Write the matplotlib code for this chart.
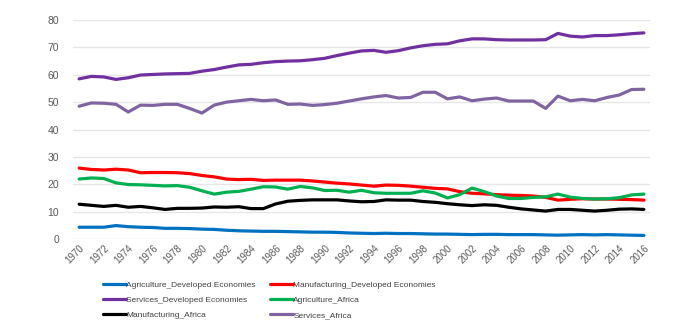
import numpy as np
import matplotlib
matplotlib.use('Agg')
import matplotlib.pyplot as plt

years = list(range(1970, 2017))

agri_dev = [4.3, 4.3, 4.3, 4.9, 4.5, 4.3, 4.2, 3.9, 3.9, 3.8,
            3.6, 3.5, 3.2, 3.0, 2.9, 2.8, 2.8, 2.7, 2.6, 2.5,
            2.5, 2.4, 2.2, 2.1, 2.0, 2.1, 2.0, 2.0, 1.9, 1.8,
            1.8, 1.7, 1.6, 1.7, 1.7, 1.6, 1.6, 1.6, 1.5, 1.4,
            1.5, 1.6, 1.5, 1.6, 1.5, 1.4, 1.3]

manu_dev = [25.9, 25.4, 25.2, 25.5, 25.2, 24.2, 24.3, 24.3, 24.2, 23.9,
            23.2, 22.7, 21.9, 21.7, 21.8, 21.4, 21.5, 21.5, 21.5, 21.2,
            20.8, 20.4, 20.1, 19.7, 19.3, 19.7, 19.6, 19.3, 18.9, 18.5,
            18.3, 17.3, 16.7, 16.5, 16.2, 16.0, 15.9, 15.7, 15.2, 14.2,
            14.5, 14.7, 14.6, 14.6, 14.5, 14.4, 14.2]

serv_dev = [58.5, 59.4, 59.2, 58.3, 58.9, 59.9, 60.1, 60.3, 60.4, 60.5,
            61.3, 61.9, 62.8, 63.6, 63.8, 64.4, 64.8, 65.0, 65.1, 65.5,
            66.0, 67.0, 67.9, 68.7, 68.9, 68.2, 68.8, 69.8, 70.6, 71.1,
            71.3, 72.4, 73.1, 73.1, 72.8, 72.7, 72.7, 72.7, 72.8, 75.1,
            74.1, 73.8, 74.3, 74.3, 74.6, 75.0, 75.3]

agri_afr = [21.9, 22.3, 22.1, 20.5, 19.9, 19.8, 19.6, 19.4, 19.5, 18.9,
            17.6, 16.4, 17.1, 17.4, 18.2, 19.1, 19.0, 18.2, 19.2, 18.7,
            17.7, 17.8, 17.1, 17.8, 16.9, 16.7, 16.7, 16.7, 17.6, 16.8,
            15.0, 16.2, 18.6, 17.3, 15.7, 14.8, 14.8, 15.2, 15.4, 16.4,
            15.3, 14.8, 14.6, 14.7, 15.1, 16.1, 16.4]

manu_afr = [12.7, 12.3, 11.9, 12.3, 11.6, 11.9, 11.4, 10.8, 11.2, 11.2,
            11.3, 11.7, 11.6, 11.8, 11.1, 11.1, 12.8, 13.8, 14.1, 14.3,
            14.3, 14.3, 13.9, 13.6, 13.7, 14.3, 14.2, 14.2, 13.7, 13.4,
            12.9, 12.5, 12.2, 12.5, 12.3, 11.6, 11.0, 10.6, 10.2, 10.8,
            10.8, 10.5, 10.2, 10.5, 10.9, 11.0, 10.8]

serv_afr = [48.5, 49.7, 49.6, 49.2, 46.4, 48.9, 48.8, 49.2, 49.2, 47.7,
            46.0, 48.9, 50.0, 50.5, 51.0, 50.5, 50.8, 49.2, 49.3, 48.8,
            49.1, 49.6, 50.4, 51.2, 51.9, 52.4, 51.5, 51.7, 53.6, 53.6,
            51.2, 51.9, 50.5, 51.1, 51.5, 50.4, 50.4, 50.4, 47.7, 52.2,
            50.5, 51.0, 50.5, 51.7, 52.6, 54.6, 54.7]

series = [
    ('Agriculture_Developed Economies', agri_dev, '#0070C0'),
    ('Manufacturing_Developed Economies', manu_dev, '#FF0000'),
    ('Services_Developed Economies', serv_dev, '#7030A0'),
    ('Agriculture_Africa', agri_afr, '#00B050'),
    ('Manufacturing_Africa', manu_afr, '#000000'),
    ('Services_Africa', serv_afr, '#8064A2'),
]

plt.rcParams['font.family'] = ['Liberation Sans', 'DejaVu Sans']

fig = plt.figure(figsize=(7, 3.29), dpi=100)
ax = fig.add_axes([73/700, 90/329, 577/700, 219/329])

lines = []
for name, vals, col in series:
    ln, = ax.plot(years, vals, color=col, lw=2.3, label=name, solid_capstyle='round')
    lines.append(ln)

ax.set_xlim(1969.5, 2016.5)
ax.set_ylim(0, 80)
ax.set_yticks(range(0, 81, 10))
ax.set_xticks(years[::2])
ax.set_xticklabels([str(y) for y in years[::2]], rotation=45, ha='right',
                   rotation_mode='anchor', fontsize=7, color='#595959')
ax.tick_params(axis='y', labelsize=7.5, labelcolor='#595959', length=0, pad=10)
ax.tick_params(axis='x', length=0, pad=3)
ax.grid(axis='y', color='#e6e6e6', lw=1)
ax.set_axisbelow(True)
for s in ax.spines.values():
    s.set_visible(False)

# legend fills column by column, so reorder to read across rows
order = [0, 2, 4, 1, 3, 5]
fig.legend([lines[i] for i in order], [series[i][0] for i in order],
           loc='center', bbox_to_anchor=(0.385, 0.088), ncol=2, frameon=False,
           fontsize=6.0, handlelength=2.7, handletextpad=0.1, columnspacing=1.7,
           labelspacing=0.85, labelcolor='#404040')

fig.savefig('out.png', dpi=100)
